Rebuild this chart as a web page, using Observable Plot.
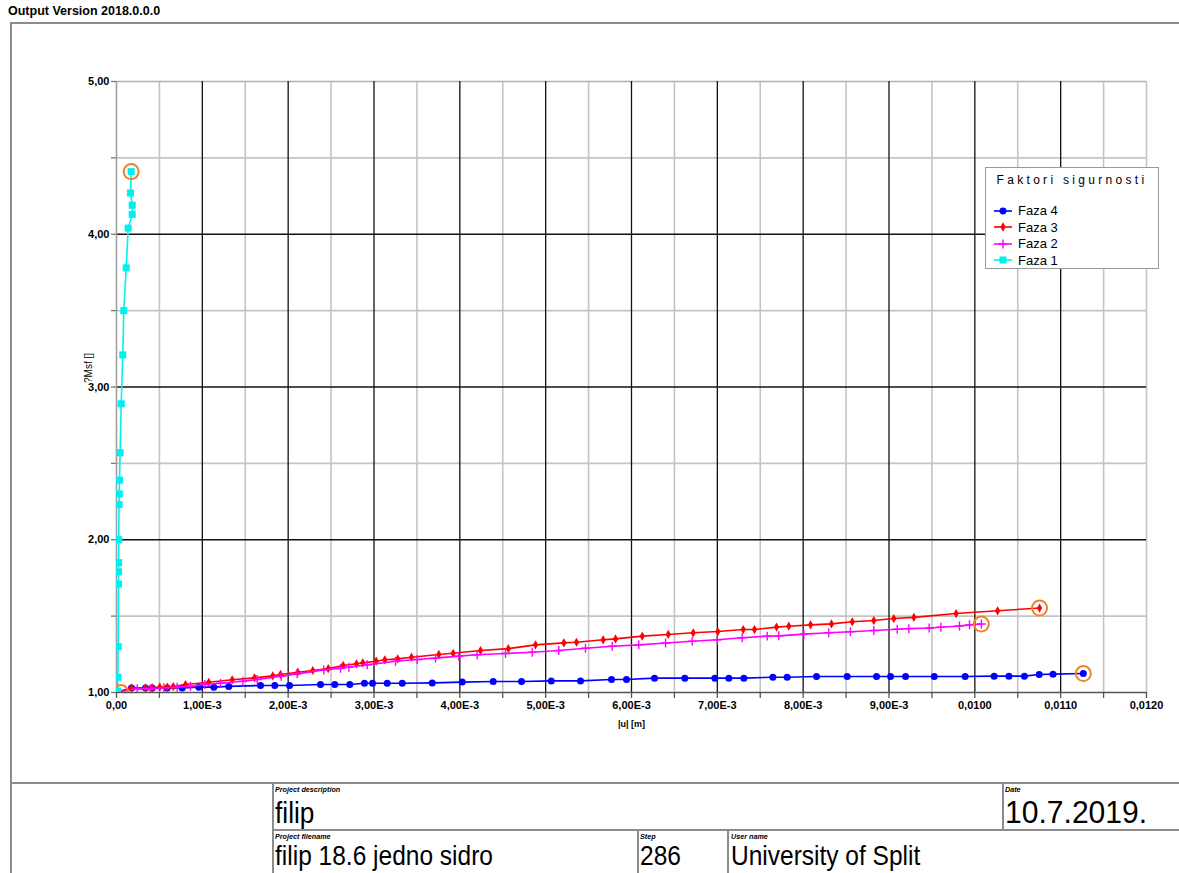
<!DOCTYPE html>
<html>
<head>
<meta charset="utf-8">
<script src="https://cdn.jsdelivr.net/npm/d3@7"></script>
<script src="https://cdn.jsdelivr.net/npm/@observablehq/plot@0.6"></script>
<style>
  body { margin: 0; background: #fff; font-family: "Liberation Sans", Arial, sans-serif; }
  #root { position: relative; width: 1179px; height: 873px; overflow: hidden; }
  .abs { position: absolute; }
  .hl { position: absolute; height: 0; border-top: 2px solid #8c8c8c; }
  .vl { position: absolute; width: 0; border-left: 2px solid #8c8c8c; }
  .small { position: absolute; font: italic bold 8px "Liberation Sans", Arial, sans-serif; color: #000; transform: scaleX(0.9); transform-origin: 0 0; white-space: nowrap; }
  .big { position: absolute; font-family: "Liberation Sans", Arial, sans-serif; color: #000; white-space: nowrap; transform-origin: 0 0; line-height: 1; }
  #legend { position: absolute; left: 985px; top: 167px; width: 174px; height: 102px; border: 1px solid #9a9a9a; background: #fff; box-sizing: border-box; }
  #legend .title { position: absolute; left: 0; right: 0; top: 5px; text-align: center; font: 12px "Liberation Sans", Arial, sans-serif; letter-spacing: 3.3px; }
  #legend .row { position: absolute; left: 6px; height: 17px; display: flex; align-items: center; font: 13px "Liberation Sans", Arial, sans-serif; }
  #legend svg { margin-right: 4px; }
</style>
</head>
<body>
<div id="root">
  <div class="abs" style="left:8px;top:4px;font:bold 12.5px 'Liberation Sans', Arial, sans-serif;">Output Version 2018.0.0.0</div>
  <div class="hl" style="left:10px;top:22px;width:1175px;"></div>
  <div class="vl" style="left:10px;top:22px;height:860px;"></div>
  <div id="chart" class="abs" style="left:0;top:0;"></div>
  <div id="legend"></div>
  <div class="hl" style="left:10px;top:782px;width:1175px;"></div>
  <div class="vl" style="left:272px;top:782px;height:100px;"></div>
  <div class="hl" style="left:272px;top:829px;width:910px;"></div>
  <div class="vl" style="left:1002px;top:782px;height:48px;"></div>
  <div class="vl" style="left:637px;top:829px;height:50px;"></div>
  <div class="vl" style="left:727px;top:829px;height:50px;"></div>
  <div id="table"></div>
</div>
<script>
// ---------- data ----------
const seriesNames = ["Faza 4", "Faza 3", "Faza 2", "Faza 1"];
const seriesColors = ["#0000ff", "#ff0000", "#ff00ff", "#00f0f0"];

const faza4X = [0, 0.000175, 0.000338, 0.000416, 0.000591, 0.000765, 0.000959, 0.001134, 0.001308, 0.001678, 0.001844, 0.002016, 0.002377, 0.002543, 0.002718, 0.002889, 0.002983, 0.003154, 0.003329, 0.003678, 0.004028, 0.004389, 0.004719, 0.005065, 0.005406, 0.005767, 0.005942, 0.006268, 0.006621, 0.006971, 0.007134, 0.007309, 0.007647, 0.007814, 0.008156, 0.008513, 0.008855, 0.009018, 0.009193, 0.009527, 0.009887, 0.010225, 0.010397, 0.010578, 0.010750, 0.010911, 0.011264];
const faza4Y = [1.00, 1.03, 1.03, 1.03, 1.03, 1.03, 1.035, 1.035, 1.04, 1.046, 1.046, 1.046, 1.052, 1.052, 1.052, 1.061, 1.061, 1.061, 1.061, 1.063, 1.068, 1.072, 1.072, 1.076, 1.076, 1.085, 1.085, 1.094, 1.094, 1.094, 1.094, 1.094, 1.10, 1.10, 1.105, 1.105, 1.105, 1.105, 1.105, 1.105, 1.105, 1.107, 1.107, 1.107, 1.118, 1.12, 1.124];

const faza3X = [0, 0.000175, 0.000338, 0.000416, 0.000504, 0.000591, 0.000661, 0.000804, 0.001075, 0.001348, 0.001608, 0.001821, 0.001911, 0.002112, 0.002287, 0.002467, 0.002641, 0.002796, 0.002870, 0.003026, 0.003126, 0.003277, 0.003437, 0.003755, 0.003923, 0.004241, 0.004565, 0.004882, 0.005212, 0.005359, 0.005670, 0.005814, 0.006125, 0.006428, 0.006719, 0.007006, 0.007302, 0.007433, 0.007690, 0.007833, 0.008086, 0.008330, 0.008572, 0.008823, 0.009056, 0.009290, 0.009782, 0.010265, 0.010754];
const faza3Y = [1.00, 1.031, 1.031, 1.031, 1.035, 1.035, 1.039, 1.052, 1.067, 1.083, 1.096, 1.109, 1.118, 1.133, 1.144, 1.157, 1.177, 1.188, 1.194, 1.205, 1.214, 1.220, 1.231, 1.249, 1.257, 1.275, 1.287, 1.312, 1.325, 1.329, 1.345, 1.351, 1.369, 1.380, 1.391, 1.399, 1.412, 1.412, 1.428, 1.434, 1.443, 1.449, 1.463, 1.471, 1.484, 1.492, 1.517, 1.535, 1.553];

const faza2X = [0, 0.000241, 0.000396, 0.000551, 0.000707, 0.000862, 0.001029, 0.001212, 0.001472, 0.001639, 0.001919, 0.002105, 0.002415, 0.002610, 0.002707, 0.002921, 0.003251, 0.003503, 0.003717, 0.003988, 0.004202, 0.004532, 0.004843, 0.005153, 0.005464, 0.005775, 0.006085, 0.006397, 0.006707, 0.006999, 0.007290, 0.007581, 0.007716, 0.008008, 0.008299, 0.008550, 0.008823, 0.009096, 0.009231, 0.009468, 0.009605, 0.009821, 0.009938, 0.010076];
const faza2Y = [1.00, 1.024, 1.024, 1.031, 1.035, 1.041, 1.052, 1.061, 1.074, 1.085, 1.107, 1.122, 1.148, 1.159, 1.166, 1.181, 1.205, 1.216, 1.225, 1.238, 1.247, 1.255, 1.264, 1.275, 1.290, 1.303, 1.312, 1.324, 1.336, 1.345, 1.358, 1.369, 1.371, 1.382, 1.391, 1.398, 1.406, 1.414, 1.418, 1.422, 1.427, 1.435, 1.443, 1.448];

const faza1X = [0.000012, 0.000016, 0.000020, 0.000023, 0.000024, 0.000025, 0.000026, 0.000030, 0.000032, 0.000035, 0.000042, 0.000055, 0.000073, 0.000085, 0.000113, 0.000136, 0.000183, 0.000183, 0.000163, 0.000171];
const faza1Y = [1.01, 1.10, 1.30, 1.71, 1.79, 1.85, 2.00, 2.23, 2.30, 2.39, 2.57, 2.89, 3.21, 3.50, 3.78, 4.04, 4.13, 4.19, 4.27, 4.41];

const startMarkX = [0.00005];
const startMarkY = [1.0];

const xTickValues = [0, 0.001, 0.002, 0.003, 0.004, 0.005, 0.006, 0.007, 0.008, 0.009, 0.010, 0.011, 0.012];
const xTickLabels = ["0,00", "1,00E-3", "2,00E-3", "3,00E-3", "4,00E-3", "5,00E-3", "6,00E-3", "7,00E-3", "8,00E-3", "9,00E-3", "0,0100", "0,0110", "0,0120"];
const yTickValues = [1, 2, 3, 4, 5];
const yTickLabels = ["1,00", "2,00", "3,00", "4,00", "5,00"];
const xLabel = "|u| [m]";
const yLabel = "?Msf []";
const legendTitle = "Faktori sigurnosti";

// ---------- build ----------
const toRows = (xs, ys, name) => xs.map((x, i) => ({x, y: ys[i], name}));
const s4 = toRows(faza4X, faza4Y, "Faza 4");
const s3 = toRows(faza3X, faza3Y, "Faza 3");
const s2 = toRows(faza2X, faza2Y, "Faza 2");
const s1 = toRows(faza1X, faza1Y, "Faza 1");
const ends = [s4, s3, s2, s1].map(s => s[s.length - 1]).concat(toRows(startMarkX, startMarkY, "start"));

const xMinor = d3.range(0.0005, 0.012, 0.001);
const yMinor = [1.5, 2.5, 3.5, 4.5];
const xAllTicks = d3.range(0, 0.01201, 0.0005);
const yAllTicks = d3.range(1, 5.01, 0.5);
const fmtFrom = (vals, labels) => d => {
  const i = vals.findIndex(v => Math.abs(v - d) < 1e-9);
  return i >= 0 ? labels[i] : "";
};
const notOrigin = d => d.x > 0;

const chart = Plot.plot({
  width: 1179,
  height: 783,
  marginLeft: 116,
  marginRight: 33,
  marginTop: 81,
  marginBottom: 91,
  x: {domain: [0, 0.012]},
  y: {domain: [1, 5]},
  style: {background: "none", fontFamily: "'Liberation Sans', Arial, sans-serif", fontSize: "11px", color: "#000"},
  marks: [
    Plot.ruleX(xMinor, {stroke: "#c4c4c4", strokeWidth: 1.6}),
    Plot.ruleY(yMinor, {stroke: "#c4c4c4", strokeWidth: 1.6}),
    Plot.ruleX([0.012], {stroke: "#c4c4c4", strokeWidth: 1.6}),
    Plot.ruleY([5], {stroke: "#b0b0b0", strokeWidth: 1.6}),
    Plot.ruleX(xTickValues.slice(1, -1), {stroke: "#111", strokeWidth: 1.3}),
    Plot.ruleY([2, 3, 4], {stroke: "#111", strokeWidth: 1.3}),
    Plot.ruleX([0], {stroke: "#a0a0a0", strokeWidth: 1.6}),
    Plot.ruleY([1], {stroke: "#555", strokeWidth: 1.6}),
    Plot.axisX(xAllTicks, {tickSize: 6, tickPadding: 3, stroke: "#555", strokeWidth: 1.3, fontSize: 11, fontWeight: "bold", tickFormat: fmtFrom(xTickValues, xTickLabels), label: null}),
    Plot.axisY(yAllTicks, {tickSize: 5, tickPadding: 2, stroke: "#777", strokeWidth: 1.3, fontSize: 11, fontWeight: "bold", tickFormat: fmtFrom(yTickValues, yTickLabels), label: null}),
    Plot.text([yLabel], {frameAnchor: "left", dx: -28, dy: -4, rotate: -90, fontSize: 10, fill: "#000"}),
    Plot.text([xLabel], {frameAnchor: "bottom", dy: 34, fontSize: 9, fontWeight: "bold", fill: "#000"}),
    // Faza 4
    Plot.line(s4, {x: "x", y: "y", stroke: seriesColors[0], strokeWidth: 1.6, clip: true}),
    Plot.dot(s4, {x: "x", y: "y", filter: notOrigin, symbol: "circle", r: 3.5, fill: seriesColors[0], stroke: "none", clip: true}),
    // Faza 3
    Plot.line(s3, {x: "x", y: "y", stroke: seriesColors[1], strokeWidth: 1.6, clip: true}),
    Plot.dot(s3, {x: "x", y: "y", filter: notOrigin, symbol: "diamond", r: 2.8, fill: seriesColors[1], stroke: "none", clip: true}),
    // Faza 2
    Plot.line(s2, {x: "x", y: "y", stroke: seriesColors[2], strokeWidth: 1.6, clip: true}),
    Plot.dot(s2, {x: "x", y: "y", filter: notOrigin, symbol: "plus", r: 3, fill: "none", stroke: seriesColors[2], strokeWidth: 1.4, clip: true}),
    // Faza 1
    Plot.line(s1, {x: "x", y: "y", stroke: seriesColors[3], strokeWidth: 1.6, clip: true}),
    Plot.dot(s1, {x: "x", y: "y", symbol: "square", r: 4, fill: seriesColors[3], stroke: "none", clip: true}),
    // end markers
    Plot.dot(ends, {x: "x", y: "y", r: 7.5, fill: "none", stroke: "#ef8420", strokeWidth: 2, clip: true})
  ]
});
document.getElementById("chart").appendChild(chart);

// ---------- legend ----------
const legend = document.getElementById("legend");
const title = document.createElement("div");
title.className = "title";
title.textContent = legendTitle;
legend.appendChild(title);
const symbols = [d3.symbolCircle, d3.symbolDiamond, d3.symbolPlus, d3.symbolSquare];
const sizes = [38, 25, 28, 50];
seriesNames.forEach((name, i) => {
  const row = document.createElement("div");
  row.className = "row";
  row.style.top = (34 + i * 16.6) + "px";
  const svg = d3.create("svg").attr("width", 22).attr("height", 14);
  svg.append("line").attr("x1", 2).attr("x2", 20).attr("y1", 7).attr("y2", 7)
    .attr("stroke", seriesColors[i]).attr("stroke-width", 1.6);
  const isStroke = i === 2;
  svg.append("path").attr("transform", "translate(11,7)")
    .attr("d", d3.symbol(symbols[i], sizes[i])())
    .attr("fill", isStroke ? "none" : seriesColors[i])
    .attr("stroke", isStroke ? seriesColors[i] : "none")
    .attr("stroke-width", 1.4);
  row.appendChild(svg.node());
  const t = document.createElement("span");
  t.textContent = name;
  row.appendChild(t);
  legend.appendChild(row);
});

// ---------- title block ----------
const tableCells = [
  {label: "Project description", value: "filip", x: 275, y: 784, size: 30, top: 14, sx: 0.875},
  {label: "Date", value: "10.7.2019.", x: 1005, y: 784, size: 31, top: 13, sx: 0.97},
  {label: "Project filename", value: "filip 18.6 jedno sidro", x: 275, y: 831, size: 28, top: 11, sx: 0.875},
  {label: "Step", value: "286", x: 640, y: 831, size: 28, top: 11, sx: 0.875},
  {label: "User name", value: "University of Split", x: 731, y: 831, size: 28, top: 11, sx: 0.875}
];
const table = document.getElementById("table");
tableCells.forEach(c => {
  const l = document.createElement("div");
  l.className = "small";
  l.style.left = c.x + "px";
  l.style.top = (c.y + 1) + "px";
  l.textContent = c.label;
  table.appendChild(l);
  const v = document.createElement("div");
  v.className = "big";
  v.style.left = c.x + "px";
  v.style.top = (c.y + c.top) + "px";
  v.style.fontSize = c.size + "px";
  v.style.transform = "scaleX(" + c.sx + ")";
  v.textContent = c.value;
  table.appendChild(v);
});
</script>
</body>
</html>
